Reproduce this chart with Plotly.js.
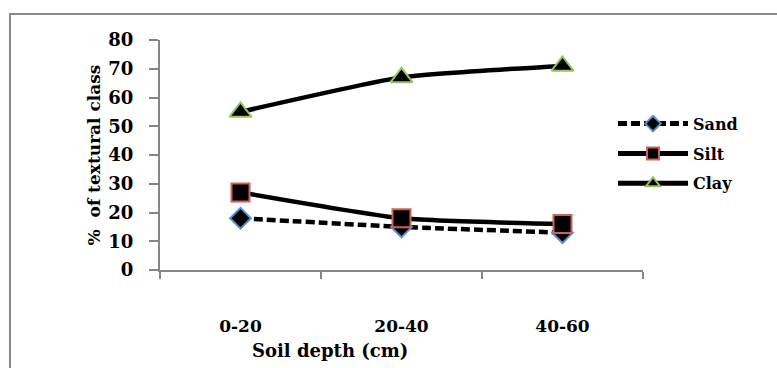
<!DOCTYPE html>
<html>
<head>
<meta charset="utf-8">
<script src="https://cdn.plot.ly/plotly-3.0.1.min.js"></script>
<style>
  html, body { margin: 0; padding: 0; background: #ffffff; }
  #frame { position: relative; width: 777px; height: 368px; overflow: hidden; }
  #chart { width: 777px; height: 368px; }
  .edge-top { position: absolute; left: 9px; top: 13px; width: 770px; height: 2px; background: #8a8a8a; }
  .edge-left { position: absolute; left: 9px; top: 13px; width: 2px; height: 360px; background: #8a8a8a; }
</style>
</head>
<body>
<div id="frame">
  <div id="chart"></div>
  <div class="edge-top"></div>
  <div class="edge-left"></div>
</div>
<script>
// Soil depth classes and textural fractions (%)
const depths = ['0-20', '20-40', '40-60'];
const sand = [18, 15, 13];
const silt = [27, 18, 16];
const clay = [55, 67, 71];
const yTicks = [0, 10, 20, 30, 40, 50, 60, 70, 80];

const serif = '"DejaVu Serif", "Liberation Serif", serif';

function series(name, values, dash, symbol, size, edge) {
  return {
    x: depths, y: values, name: name, type: 'scatter', mode: 'lines+markers',
    legendgroup: name,
    line: { color: '#000000', width: 4.5, dash: dash, shape: 'spline', smoothing: 0.5 },
    marker: { symbol: symbol, size: size, color: '#000000', line: { color: edge, width: 2 } }
  };
}

const traces = [
  series('Sand', sand, '9px,4px', 'diamond', 16, '#5b8fd0'),
  series('Silt', silt, 'solid', 'square', 18, '#d0605a'),
  series('Clay', clay, 'solid', 'triangle-up', 19, '#9bc25e')
];

const layout = {
  width: 777, height: 368,
  margin: { l: 160, r: 134, t: 40, b: 98 },
  paper_bgcolor: '#ffffff', plot_bgcolor: '#ffffff',
  font: { family: serif, color: '#000000' },
  showlegend: true,
  legend: {
    x: (613 - 160) / 483, xanchor: 'left', y: 0.71, yanchor: 'top',
    font: { family: serif, size: 16, weight: 'bold', color: '#000000' },
    traceorder: 'grouped', tracegroupgap: 6, itemwidth: 70, itemsizing: 'constant',
    bgcolor: 'rgba(0,0,0,0)'
  },
  xaxis: {
    type: 'category', range: [-0.5, 2.5], tickson: 'boundaries',
    ticks: 'outside', ticklen: 7, tickwidth: 2, tickcolor: '#868686',
    showline: true, linecolor: '#868686', linewidth: 2,
    showgrid: false, zeroline: false,
    tickfont: { family: serif, size: 17, weight: 'bold' },
    ticklabelstandoff: 40
  },
  yaxis: {
    range: [0, 80], tickvals: yTicks, ticktext: yTicks.map(String),
    ticks: 'outside', ticklen: 9, tickwidth: 2, tickcolor: '#868686',
    showline: true, linecolor: '#868686', linewidth: 2,
    showgrid: false, zeroline: false,
    tickfont: { family: serif, size: 18, weight: 'bold' },
    ticklabelstandoff: 12,
    title: { text: '%  of textural class', font: { family: serif, size: 17, weight: 'bold' }, standoff: 3 }
  },
  annotations: [{
    text: 'Soil depth (cm)', xref: 'paper', yref: 'paper',
    x: (330 - 160) / 483, y: -0.35, xanchor: 'center', yanchor: 'middle',
    showarrow: false, font: { family: serif, size: 18, weight: 'bold' }
  }]
};

Plotly.newPlot('chart', traces, layout, { staticPlot: true, displayModeBar: false });
</script>
</body>
</html>
